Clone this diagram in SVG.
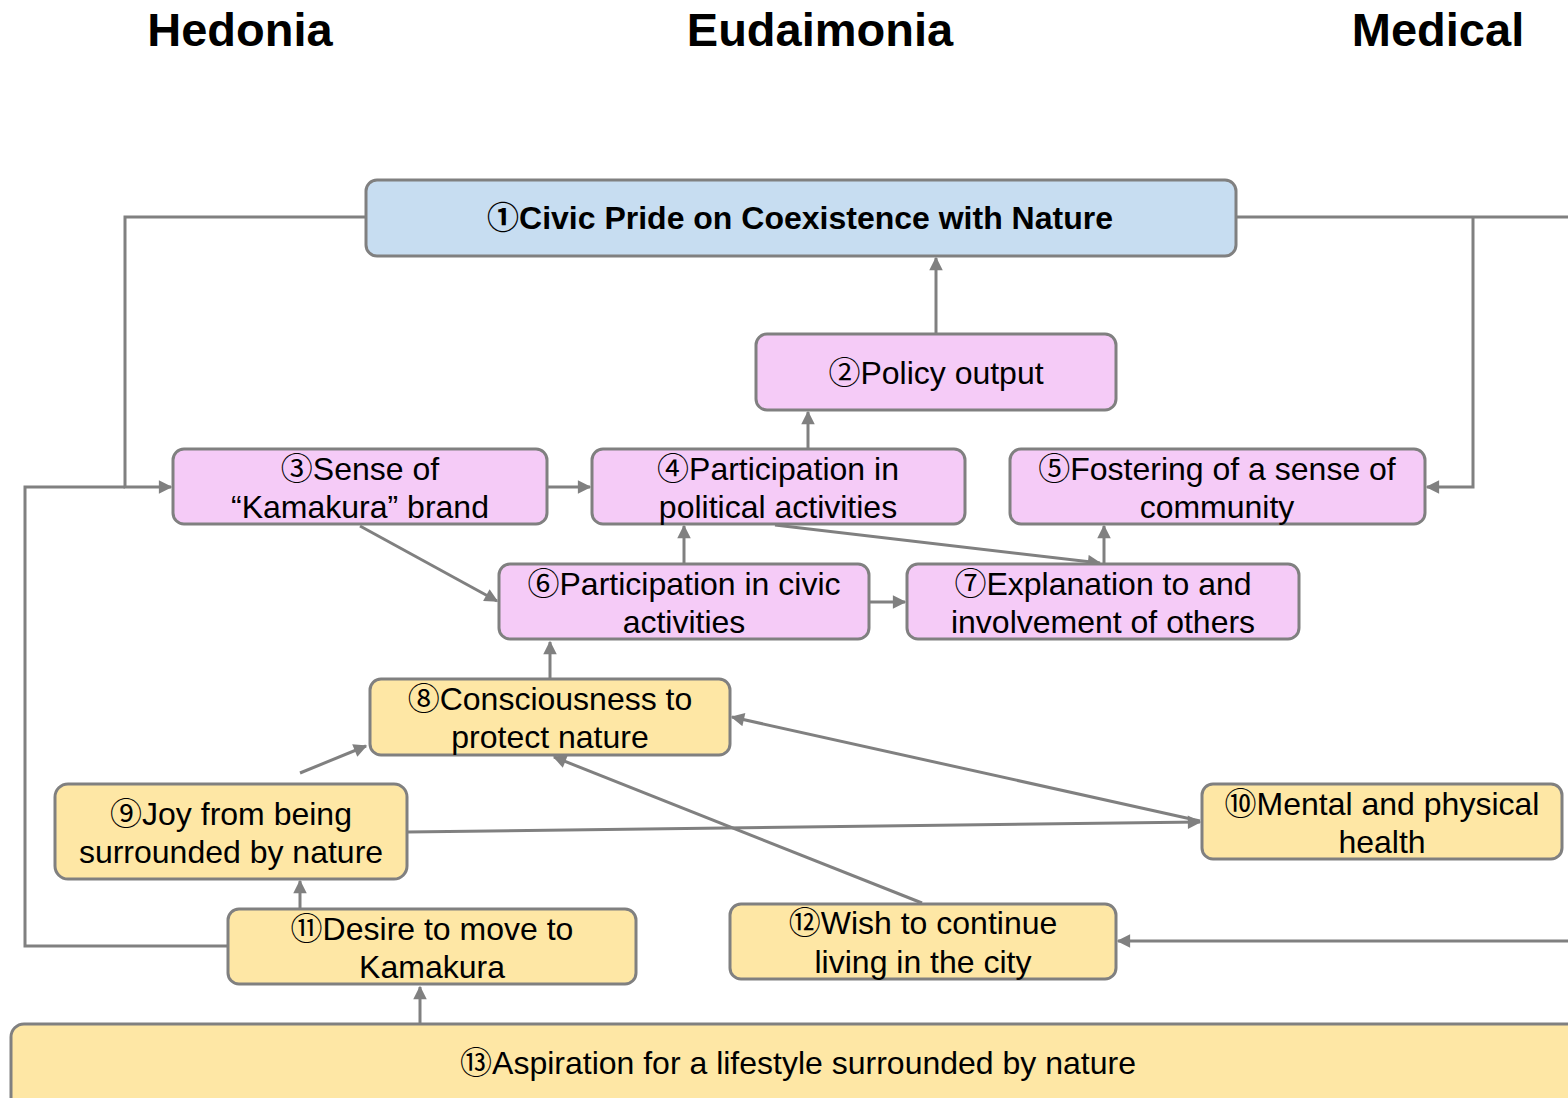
<svg xmlns="http://www.w3.org/2000/svg" width="1568" height="1098" viewBox="0 0 1568 1098">
<style>
.box{stroke:#808080;stroke-width:3}
.blue{fill:#c7ddf1}
.pink{fill:#f5cbf7}
.yel{fill:#fee7a5}
.t{font-family:"Liberation Sans","Noto Sans CJK JP",sans-serif;font-size:32px;fill:#000;text-anchor:middle}
.b{font-weight:bold;font-size:32px}
.h{font-family:"Liberation Sans",sans-serif;font-weight:bold;font-size:47px;fill:#000;text-anchor:middle}
.c{fill:none;stroke:#808080;stroke-width:3}
</style>
<defs>
<marker id="ah" viewBox="0 0 10 10" refX="9" refY="5" markerWidth="5" markerHeight="4.5" orient="auto" markerUnits="strokeWidth">
<path d="M0,0 L10,5 L0,10 z" fill="#808080"/>
</marker>
</defs>
<rect width="1568" height="1098" fill="#fff"/>
<g id="titles">
<text class="h" x="240" y="46">Hedonia</text>
<text class="h" x="820" y="46">Eudaimonia</text>
<text class="h" x="1438" y="46">Medical</text>
</g>
<g id="connectors">
<polyline class="c" points="366,217 125,217 125,487 171,487" marker-end="url(#ah)"/>
<polyline class="c" points="228,946 25,946 25,487 125,487"/>
<polyline class="c" points="1236,217 1568,217"/>
<polyline class="c" points="1473,217 1473,487 1427,487" marker-end="url(#ah)"/>
<line class="c" x1="936" y1="334" x2="936" y2="258" marker-end="url(#ah)"/>
<line class="c" x1="808" y1="449" x2="808" y2="412" marker-end="url(#ah)"/>
<line class="c" x1="547" y1="487" x2="590" y2="487" marker-end="url(#ah)"/>
<line class="c" x1="360" y1="526" x2="497" y2="601" marker-end="url(#ah)"/>
<line class="c" x1="684" y1="564" x2="684" y2="526" marker-end="url(#ah)"/>
<line class="c" x1="869" y1="602" x2="905" y2="602" stroke-width="4" marker-end="url(#ah)"/>
<line class="c" x1="1104" y1="564" x2="1104" y2="526" marker-end="url(#ah)"/>
<line class="c" x1="775" y1="525" x2="1100" y2="563" marker-end="url(#ah)"/>
<line class="c" x1="550" y1="679" x2="550" y2="642" marker-end="url(#ah)"/>
<line class="c" x1="300" y1="773" x2="366" y2="746" marker-end="url(#ah)"/>
<line class="c" x1="407" y1="832" x2="1200" y2="822" marker-end="url(#ah)"/>
<line class="c" x1="1200" y1="821" x2="732" y2="717" marker-end="url(#ah)"/>
<line class="c" x1="922" y1="903" x2="554" y2="757" marker-end="url(#ah)"/>
<line class="c" x1="300" y1="909" x2="300" y2="881" marker-end="url(#ah)"/>
<line class="c" x1="420" y1="1024" x2="420" y2="987" marker-end="url(#ah)"/>
<line class="c" x1="1568" y1="941" x2="1118" y2="941" marker-end="url(#ah)"/>
</g>
<g id="n1"><rect class="box blue" x="366" y="180" width="870" height="76" rx="11"/><text class="t b" x="800" y="229">①Civic Pride on Coexistence with Nature</text></g>
<g id="n2"><rect class="box pink" x="756" y="334" width="360" height="76" rx="11"/><text class="t" x="936" y="384">②Policy output</text></g>
<g id="n3"><rect class="box pink" x="173" y="449" width="374" height="75" rx="11"/><text class="t" x="360" y="480">③Sense of</text><text class="t" x="360" y="518">“Kamakura” brand</text></g>
<g id="n4"><rect class="box pink" x="592" y="449" width="373" height="75" rx="11"/><text class="t" x="778" y="480">④Participation in</text><text class="t" x="778" y="518">political activities</text></g>
<g id="n5"><rect class="box pink" x="1010" y="449" width="415" height="75" rx="11"/><text class="t" x="1217" y="480">⑤Fostering of a sense of</text><text class="t" x="1217" y="518">community</text></g>
<g id="n6"><rect class="box pink" x="499" y="564" width="370" height="75" rx="11"/><text class="t" x="684" y="595">⑥Participation in civic</text><text class="t" x="684" y="633">activities</text></g>
<g id="n7"><rect class="box pink" x="907" y="564" width="392" height="75" rx="11"/><text class="t" x="1103" y="595">⑦Explanation to and</text><text class="t" x="1103" y="633">involvement of others</text></g>
<g id="n8"><rect class="box yel" x="370" y="679" width="360" height="76" rx="11"/><text class="t" x="550" y="710">⑧Consciousness to</text><text class="t" x="550" y="748">protect nature</text></g>
<g id="n9"><rect class="box yel" x="55" y="784" width="352" height="95" rx="13"/><text class="t" x="231" y="825">⑨Joy from being</text><text class="t" x="231" y="863">surrounded by nature</text></g>
<g id="n10"><rect class="box yel" x="1202" y="784" width="360" height="75" rx="11"/><text class="t" x="1382" y="815">⑩Mental and physical</text><text class="t" x="1382" y="853">health</text></g>
<g id="n11"><rect class="box yel" x="228" y="909" width="408" height="75" rx="11"/><text class="t" x="432" y="940">⑪Desire to move to</text><text class="t" x="432" y="978">Kamakura</text></g>
<g id="n12"><rect class="box yel" x="730" y="904" width="386" height="75" rx="11"/><text class="t" x="923" y="934">⑫Wish to continue</text><text class="t" x="923" y="973">living in the city</text></g>
<g id="n13"><rect class="box yel" x="11" y="1024" width="1600" height="90" rx="13"/><text class="t" x="798" y="1074">⑬Aspiration for a lifestyle surrounded by nature</text></g>
</svg>
